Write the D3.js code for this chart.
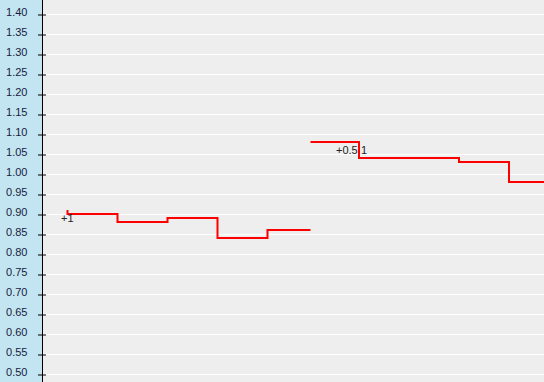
<!DOCTYPE html>
<html>
<head>
<meta charset="utf-8">
<script src="https://cdnjs.cloudflare.com/ajax/libs/d3/7.8.5/d3.min.js"></script>
<style>
  body { margin: 0; padding: 0; background: #fff; }
  svg { display: block; }
</style>
</head>
<body>
<div class="chart"></div>
<script>
// y axis tick values
var yTicks = [0.50, 0.55, 0.60, 0.65, 0.70, 0.75, 0.80, 0.85, 0.90, 0.95,
  1.00, 1.05, 1.10, 1.15, 1.20, 1.25, 1.30, 1.35, 1.40];

// step series (x in time units, y value)
var seriesA_x = [0, 0, 1, 2, 3, 4, 4.86];
var seriesA_y = [0.91, 0.90, 0.88, 0.89, 0.84, 0.86, 0.86];
var seriesB_x = [4.86, 5.83, 7.83, 8.83, 9.6];
var seriesB_y = [1.08, 1.04, 1.03, 0.98, 0.98];

// point annotations
var noteText = ["+1", "+0.5", "1"];
var noteX = [-0.13, 5.37, 5.87];
var noteY = [0.889, 1.059, 1.059];

var width = 544,
  height = 382,
  axisX = 42.5;

var svg = d3.select('.chart').append("svg")
  .attr("width", width)
  .attr("height", height);

var x = d3.scaleLinear().domain([0, 9.53]).range([67.5, 544]);
var y = d3.scaleLinear().domain([0.48, 1.435]).range([height, 0]);

// panels
svg.append("rect")
  .attr("x", 0).attr("y", 0)
  .attr("width", axisX).attr("height", height)
  .style("fill", "#c2e5f1");
svg.append("rect")
  .attr("x", axisX).attr("y", 0)
  .attr("width", width - axisX).attr("height", height)
  .style("fill", "#eeeeee");

// grid lines
svg.append("g")
  .attr("class", "grid")
  .selectAll("line")
  .data(yTicks)
  .enter().append("line")
  .attr("x1", axisX)
  .attr("x2", width)
  .attr("y1", function(d) { return Math.round(y(d)) + 0.5; })
  .attr("y2", function(d) { return Math.round(y(d)) + 0.5; })
  .style("stroke", "#ffffff")
  .style("stroke-width", 1);

// y axis
var yAxis = d3.axisLeft(y)
  .tickValues(yTicks)
  .tickFormat(d3.format(".2f"))
  .tickSize(0);

var gAxis = svg.append("g")
  .attr("transform", "translate(" + axisX + ",0)")
  .call(yAxis);
gAxis.select(".domain").remove();
gAxis.selectAll(".tick line").remove();
gAxis.selectAll(".tick text")
  .attr("x", -15)
  .attr("dy", "0.1em")
  .style("font-family", "'Liberation Sans', Arial, sans-serif")
  .style("font-size", "11px")
  .style("fill", "#1a1a40");

gAxis.selectAll(".tick")
  .append("line")
  .attr("x1", -4.5).attr("x2", 3.5)
  .attr("y1", 0.5).attr("y2", 0.5)
  .style("stroke", "#000");

svg.append("line")
  .attr("x1", axisX).attr("x2", axisX)
  .attr("y1", 0).attr("y2", height)
  .style("stroke", "#000")
  .style("stroke-width", 1);

// step lines
var line = d3.line()
  .curve(d3.curveStepAfter)
  .x(function(d) { return x(d[0]); })
  .y(function(d) { return y(d[1]); });

[[seriesA_x, seriesA_y], [seriesB_x, seriesB_y]].forEach(function(s) {
  var pts = s[0].map(function(v, i) { return [v, s[1][i]]; });
  svg.append("path")
    .datum(pts)
    .attr("fill", "none")
    .attr("stroke", "#ff0000")
    .attr("stroke-width", 2)
    .attr("d", line);
});

// annotations
noteText.forEach(function(t, i) {
  svg.append("text")
    .attr("x", x(noteX[i]))
    .attr("y", y(noteY[i]))
    .attr("dy", "0.35em")
    .style("font-family", "'Liberation Sans', Arial, sans-serif")
    .style("font-size", "11px")
    .style("fill", "#222")
    .text(t);
});
</script>
</body>
</html>
